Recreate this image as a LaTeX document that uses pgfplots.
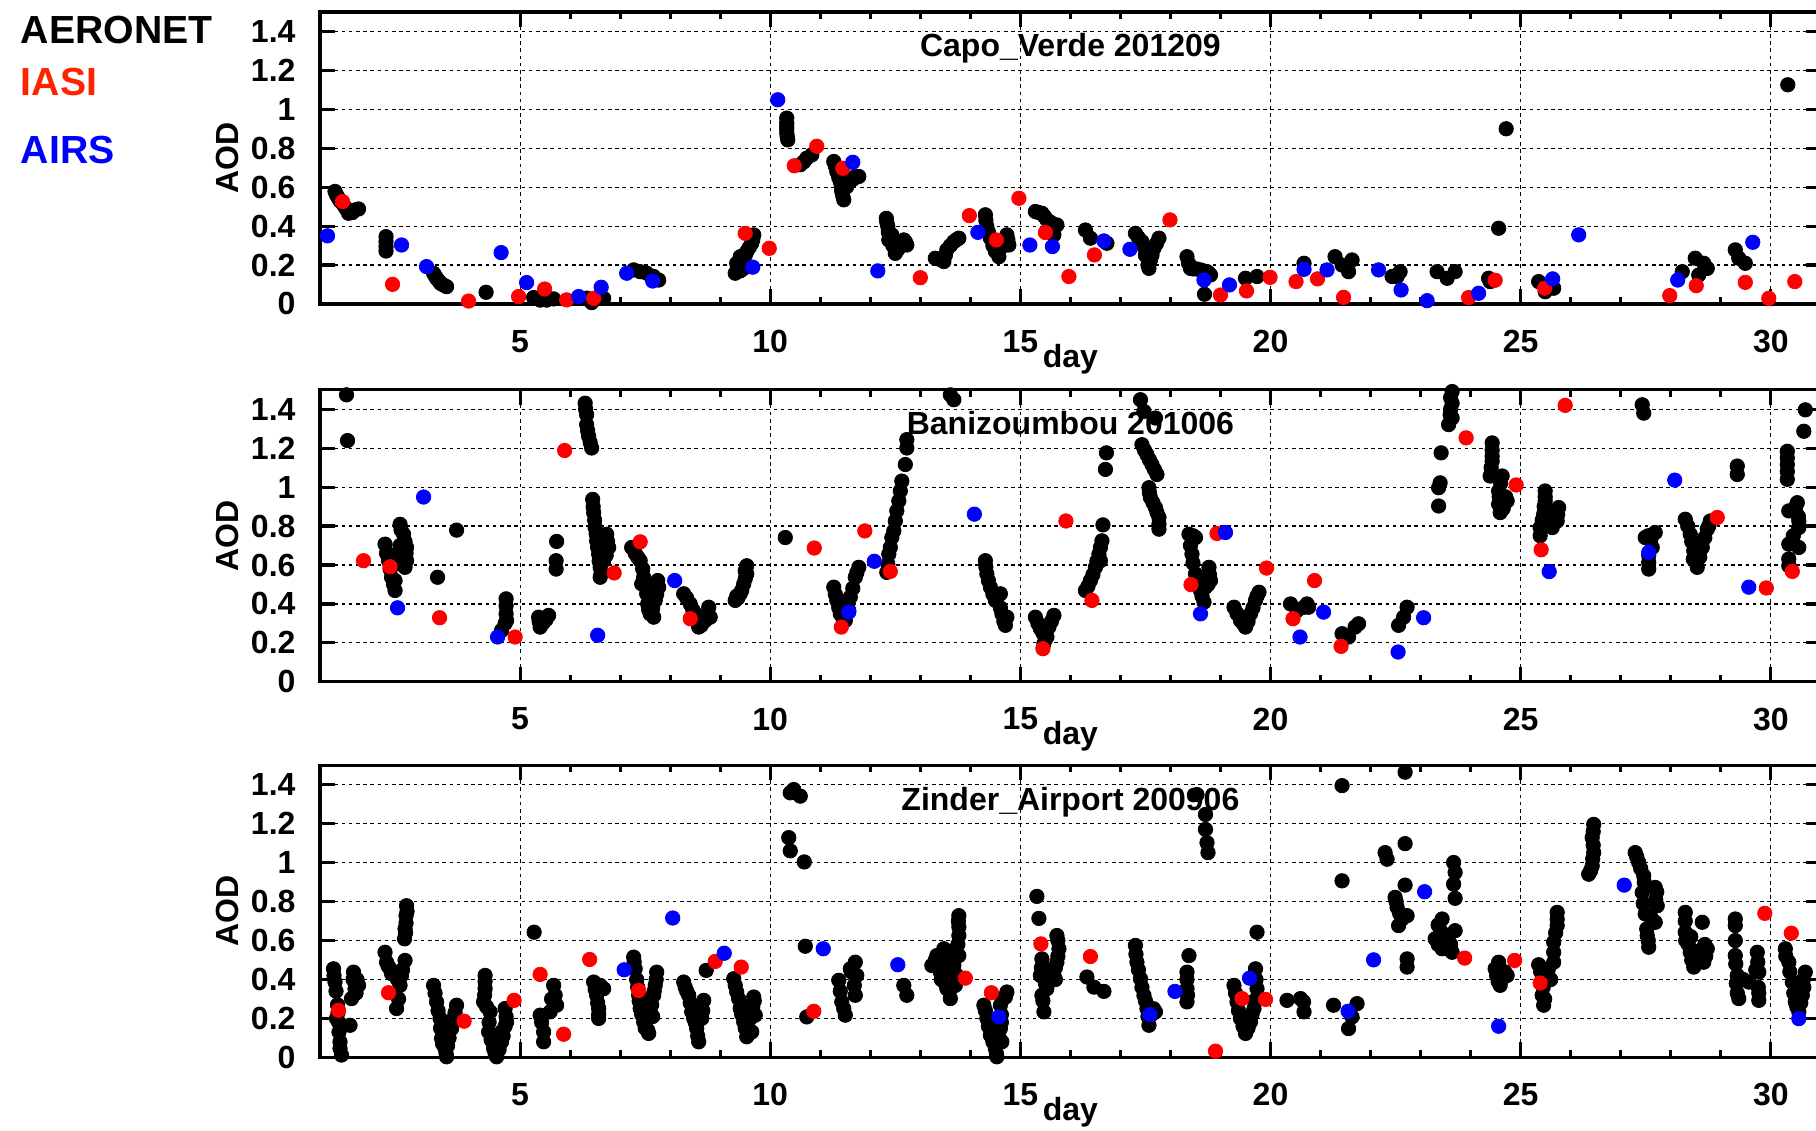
\documentclass[border=0pt]{standalone}
\usepackage{fontspec}
\setmainfont{Liberation Sans}
\usepackage{pgfplots}
\pgfplotsset{compat=1.18}
\definecolor{pred}{RGB}{255,0,0}
\definecolor{pblue}{RGB}{0,0,255}
\definecolor{lred}{RGB}{255,34,0}
\newcommand{\tf}{\fontsize{8}{9}\selectfont\bfseries}
\pgfplotsset{
  panel/.style={
    width=375.2pt, height=73pt, scale only axis,
    xmin=1, xmax=31, ymin=0, ymax=1.5,
    xtick={5,10,15,20,25,30}, minor x tick num=4,
    ytick={0,0.2,0.4,0.6,0.8,1,1.2,1.4},
    yticklabels={0,0.2,0.4,0.6,0.8,1,1.2,1.4},
    tick align=inside, major tick length=3.75pt, minor tick length=1.75pt,
    grid=major,
    major grid style={black, line width=0.3pt, dash pattern=on 0.9pt off 0.9pt},
    axis line style={line width=0.8pt},
    every tick/.style={black, line width=0.8pt},
    /pgf/number format/assume math mode=true,
    tick label style={font=\tf},
    xticklabel style={yshift=-3pt},
    yticklabel style={xshift=-2.6pt},
    xlabel={day}, ylabel={AOD},
    label style={font=\tf},
    xlabel style={at={(axis description cs:0.5,-0.216)}, anchor=base},
    ylabel style={at={(axis description cs:-0.0445,0.5)}, anchor=south},
    clip=false,
  },
  aer/.style={only marks, mark=*, mark size=1.8pt, color=black, mark options={fill=black, draw=black, line width=0.2pt}},
  iasi/.style={only marks, mark=*, mark size=1.8pt, color=pred, mark options={fill=pred, draw=pred, line width=0.2pt}},
  airs/.style={only marks, mark=*, mark size=1.8pt, color=pblue, mark options={fill=pblue, draw=pblue, line width=0.2pt}},
}
\begin{document}
\begin{tikzpicture}
% ---------------- Panel 1 ----------------
\begin{axis}[panel, at={(80pt,206.75pt)}, anchor=south west]
\node[font=\tf, anchor=base] at (axis description cs:0.5,0.846) {Capo\_Verde 201209};
\addplot[aer] coordinates {
(1.30,0.578)(1.37,0.543)(1.47,0.509)(1.57,0.466)(1.70,0.483)(1.77,0.488)(1.62,0.47)
(1.33,0.56)(1.40,0.53)(1.52,0.49)(1.65,0.47)
(2.32,0.346)(2.32,0.32)(2.32,0.295)(2.32,0.272)
(3.27,0.158)(3.33,0.132)(3.41,0.106)(3.53,0.089)(3.30,0.145)(3.37,0.12)(3.47,0.097)
(4.32,0.06)
(5.27,0.033)(5.40,0.02)(5.53,0.02)(5.67,0.026)
(6.33,0.03)(6.43,0.007)(6.67,0.029)
(7.27,0.175)(7.40,0.166)(7.53,0.158)(7.67,0.141)(7.77,0.123)
(9.30,0.158)(9.33,0.209)(9.40,0.243)(9.53,0.269)(9.63,0.312)(9.67,0.355)(9.47,0.183)
(9.35,0.19)(9.43,0.22)(9.50,0.25)(9.58,0.29)(9.65,0.33)(9.35,0.17)(9.40,0.17)
(10.33,0.955)(10.33,0.912)(10.33,0.877)(10.35,0.843)(10.33,0.93)(10.33,0.895)(10.34,0.86)
(10.60,0.715)(10.73,0.749)(10.83,0.766)(10.67,0.73)
(11.27,0.732)(11.33,0.68)(11.40,0.629)(11.43,0.578)(11.47,0.535)(11.70,0.655)(11.77,0.655)(11.53,0.603)
(11.30,0.71)(11.37,0.65)(11.42,0.60)(11.45,0.555)(11.60,0.63)(11.65,0.64)
(12.32,0.44)(12.35,0.398)(12.37,0.329)(12.50,0.26)(12.67,0.329)(12.73,0.303)(12.43,0.355)
(12.33,0.42)(12.36,0.37)(12.45,0.30)(12.55,0.28)(12.70,0.32)(12.40,0.33)
(13.30,0.235)(13.47,0.218)(13.53,0.278)(13.67,0.32)(13.77,0.338)
(13.38,0.23)(13.50,0.25)(13.60,0.30)(13.72,0.33)
(14.30,0.458)(14.33,0.398)(14.40,0.338)(14.57,0.243)(14.73,0.355)(14.77,0.303)(14.63,0.295)
(14.31,0.43)(14.36,0.37)(14.45,0.30)(14.50,0.27)(14.70,0.33)(14.75,0.33)(14.67,0.30)
(15.30,0.475)(15.43,0.466)(15.53,0.432)(15.73,0.406)(15.67,0.355)
(15.36,0.47)(15.48,0.45)(15.60,0.42)(15.62,0.38)
(16.30,0.38)(16.40,0.338)(16.73,0.312)
(17.30,0.363)(17.43,0.32)(17.53,0.269)(17.57,0.183)(17.67,0.286)(17.77,0.338)(17.60,0.226)
(17.36,0.34)(17.48,0.29)(17.55,0.20)(17.63,0.25)(17.72,0.31)(17.50,0.25)
(18.33,0.243)(18.40,0.183)(18.60,0.175)(18.73,0.166)(18.80,0.149)(18.68,0.05)
(18.36,0.21)(18.45,0.18)(18.52,0.18)(18.66,0.17)(18.76,0.16)
(19.50,0.132)(19.73,0.141)
(20.67,0.209)
(21.29,0.243)(21.43,0.2)(21.56,0.166)(21.63,0.226)
(22.43,0.141)(22.59,0.166)(22.53,0.141)
(23.33,0.166)(23.53,0.132)(23.69,0.166)
(24.36,0.132)(24.39,0.115)
(24.56,0.389)
(24.71,0.9)
(25.36,0.115)(25.49,0.063)(25.66,0.081)
(28.23,0.166)(28.49,0.235)(28.66,0.209)(28.56,0.149)(28.73,0.183)
(29.29,0.278)(29.36,0.235)(29.49,0.209)
(30.34,1.126)
};
\addplot[iasi] coordinates {
(1.45,0.526)(2.45,0.101)(3.97,0.015)(4.97,0.038)(5.49,0.077)(5.93,0.021)(6.47,0.029)(9.50,0.363)(9.98,0.286)(10.48,0.71)(10.93,0.81)(11.45,0.697)(13.00,0.135)(13.98,0.454)(14.52,0.329)(14.97,0.543)(15.50,0.367)(15.97,0.141)(16.48,0.252)(17.99,0.432)(19.00,0.046)(19.52,0.067)(19.99,0.137)(20.51,0.115)(20.94,0.129)(21.46,0.034)(23.96,0.033)(24.49,0.122)(25.48,0.081)(27.98,0.043)(28.51,0.094)(29.49,0.111)(29.96,0.029)(30.48,0.115)
};
\addplot[airs] coordinates {
(1.15,0.35)(2.63,0.303)(3.13,0.192)(4.62,0.264)(5.13,0.11)(6.17,0.038)(6.62,0.086)(7.13,0.158)(7.65,0.118)(9.65,0.189)(10.15,1.049)(11.65,0.728)(12.15,0.17)(14.15,0.368)(15.19,0.303)(15.64,0.295)(16.67,0.324)(17.19,0.281)(18.67,0.123)(19.18,0.098)(20.67,0.178)(21.13,0.175)(22.16,0.175)(22.61,0.072)(23.13,0.017)(24.16,0.055)(25.64,0.129)(26.16,0.355)(28.14,0.123)(29.64,0.317)
};
\end{axis}
% ---------------- Panel 2 ----------------
\begin{axis}[panel, at={(80pt,112.3pt)}, anchor=south west]
\node[font=\tf, anchor=base] at (axis description cs:0.5,0.846) {Banizoumbou 201006};
\addplot[aer] coordinates {
(1.53,1.474)(1.55,1.239)
(2.30,0.707)(2.37,0.622)(2.43,0.537)(2.50,0.469)(2.60,0.809)(2.67,0.758)(2.73,0.69)(2.73,0.622)(2.70,0.588)(2.53,0.656)(2.50,0.52)
(2.33,0.66)(2.40,0.58)(2.47,0.50)(2.62,0.78)(2.70,0.72)(2.72,0.66)(2.65,0.60)(2.60,0.70)(2.45,0.60)
(3.73,0.779)(3.35,0.537)
(4.72,0.426)(4.72,0.349)(4.73,0.315)(4.63,0.264)(4.72,0.39)(4.70,0.30)
(5.73,0.721)(5.72,0.622)(5.72,0.579)
(5.37,0.332)(5.40,0.281)(5.57,0.341)(5.47,0.307)(5.45,0.30)(5.52,0.32)(5.38,0.31)
(6.30,1.431)(6.33,1.372)(6.33,1.321)(6.37,1.261)(6.43,1.201)(6.31,1.40)(6.35,1.29)(6.40,1.23)
(6.45,0.937)(6.47,0.869)(6.50,0.792)(6.53,0.724)(6.57,0.656)(6.60,0.588)(6.60,0.537)(6.73,0.758)(6.77,0.69)(6.67,0.622)
(6.46,0.90)(6.49,0.83)(6.52,0.76)(6.55,0.69)(6.58,0.62)(6.62,0.56)(6.70,0.72)(6.75,0.72)(6.72,0.65)
(7.23,0.69)(7.40,0.622)(7.47,0.537)(7.53,0.452)(7.60,0.349)(7.67,0.332)(7.77,0.486)(7.70,0.418)(7.43,0.503)
(7.30,0.66)(7.35,0.64)(7.45,0.58)(7.50,0.50)(7.55,0.40)(7.57,0.37)(7.73,0.45)(7.65,0.38)(7.75,0.52)(7.63,0.36)
(8.27,0.452)(8.40,0.4)(8.50,0.349)(8.57,0.281)(8.70,0.315)(8.77,0.383)(8.80,0.332)
(8.33,0.43)(8.45,0.37)(8.53,0.31)(8.62,0.29)(8.75,0.35)
(9.30,0.418)(9.40,0.452)(9.47,0.503)(9.53,0.554)(9.53,0.596)(9.35,0.43)(9.43,0.47)(9.50,0.53)(9.50,0.57)(9.33,0.44)
(10.30,0.741)
(13.60,1.474)(13.67,1.449)
(11.27,0.486)(11.33,0.418)(11.40,0.349)(11.50,0.315)(11.60,0.435)(11.70,0.537)(11.77,0.588)(11.57,0.366)
(11.30,0.45)(11.37,0.38)(11.45,0.33)(11.55,0.40)(11.65,0.48)(11.73,0.56)
(12.33,0.562)(12.37,0.656)(12.43,0.741)(12.50,0.826)(12.57,0.929)(12.63,1.031)(12.70,1.116)(12.73,1.201)(12.73,1.244)(12.60,0.98)(12.53,0.878)(12.47,0.775)(12.40,0.69)(12.35,0.605)
(14.30,0.622)(14.33,0.554)(14.40,0.486)(14.50,0.418)(14.60,0.452)(14.63,0.349)(14.73,0.332)(14.70,0.29)
(14.31,0.59)(14.36,0.52)(14.45,0.45)(14.55,0.44)(14.67,0.31)(14.60,0.38)
(15.30,0.332)(15.40,0.273)(15.53,0.23)(15.67,0.341)(15.57,0.281)(15.47,0.196)
(15.35,0.30)(15.45,0.25)(15.50,0.22)(15.62,0.31)
(16.30,0.469)(16.40,0.52)(16.50,0.588)(16.57,0.656)(16.63,0.724)(16.60,0.622)
(16.35,0.49)(16.45,0.55)(16.53,0.62)(16.60,0.69)
(16.65,0.806)(16.72,1.176)(16.70,1.091)
(17.40,1.449)(17.47,1.389)(17.70,1.355)
(17.43,1.218)(17.53,1.167)(17.63,1.116)(17.73,1.065)(17.48,1.19)(17.58,1.14)(17.68,1.09)
(17.57,0.997)(17.60,0.946)(17.70,0.895)(17.77,0.844)(17.77,0.784)(17.58,0.97)(17.65,0.92)(17.73,0.87)(17.77,0.81)
(18.37,0.758)(18.50,0.741)(18.43,0.656)(18.50,0.554)(18.60,0.469)(18.67,0.409)(18.77,0.588)(18.80,0.52)(18.70,0.486)
(18.40,0.70)(18.45,0.61)(18.55,0.51)(18.63,0.44)(18.78,0.55)(18.75,0.50)(18.45,0.75)
(19.27,0.383)(19.40,0.315)(19.50,0.281)(19.60,0.349)(19.70,0.418)(19.77,0.46)
(19.33,0.35)(19.45,0.30)(19.55,0.31)(19.65,0.38)(19.73,0.44)
(20.40,0.4)(20.53,0.366)(20.67,0.383)(20.73,0.4)(20.76,0.383)
(21.43,0.247)(21.56,0.23)(21.69,0.281)(21.76,0.298)
(22.56,0.29)(22.66,0.332)(22.73,0.383)
(23.36,0.903)(23.36,0.997)(23.39,1.022)(23.41,1.176)
(23.63,1.491)(23.63,1.431)(23.59,1.372)(23.56,1.321)(23.63,1.355)(23.60,1.40)(23.60,1.46)
(24.43,1.227)(24.43,1.159)(24.43,1.133)(24.39,1.057)(24.63,1.057)(24.56,0.98)(24.56,0.912)(24.59,0.869)(24.73,0.929)
(24.43,1.19)(24.41,1.10)(24.60,1.02)(24.57,0.95)(24.65,0.89)(24.70,0.95)
(25.49,0.98)(25.49,0.929)(25.46,0.861)(25.39,0.792)(25.39,0.75)(25.76,0.895)(25.73,0.826)(25.63,0.792)
(25.49,0.95)(25.47,0.90)(25.43,0.83)(25.70,0.86)(25.74,0.86)(25.55,0.85)(25.60,0.82)
(27.49,0.741)(27.69,0.767)(27.56,0.613)(27.56,0.579)(27.63,0.69)(27.55,0.75)(27.60,0.73)(27.56,0.65)
(27.43,1.423)(27.46,1.38)
(28.29,0.835)(28.39,0.758)(28.46,0.673)(28.53,0.588)(28.63,0.69)(28.73,0.784)(28.79,0.826)
(28.34,0.80)(28.42,0.72)(28.50,0.63)(28.58,0.64)(28.68,0.74)(28.76,0.80)(28.45,0.63)(28.55,0.70)
(29.33,1.108)(29.33,1.065)
(30.69,1.397)(30.66,1.287)(30.33,1.184)(30.33,1.116)(30.33,1.04)(30.53,0.92)(30.36,0.878)(30.56,0.826)(30.56,0.792)(30.36,0.707)(30.56,0.69)(30.36,0.631)(30.36,0.596)
(30.33,1.15)(30.33,1.08)(30.50,0.90)(30.55,0.85)(30.45,0.75)
};
\addplot[iasi] coordinates {
(1.87,0.622)(2.40,0.591)(3.39,0.329)(4.90,0.23)(5.89,1.188)(6.88,0.559)(7.40,0.719)(8.40,0.324)(10.88,0.687)(11.42,0.281)(11.89,0.775)(12.40,0.567)(15.91,0.826)(15.45,0.17)(16.43,0.418)(18.41,0.499)(18.93,0.762)(19.92,0.584)(20.45,0.324)(20.88,0.52)(21.41,0.182)(23.91,1.253)(24.91,1.011)(25.41,0.678)(25.89,1.42)(28.93,0.844)(29.91,0.482)(30.43,0.567)
};
\addplot[airs] coordinates {
(3.07,0.949)(2.55,0.38)(4.55,0.23)(6.55,0.239)(8.09,0.52)(11.57,0.358)(12.08,0.619)(14.08,0.861)(18.60,0.349)(19.10,0.767)(20.59,0.23)(21.06,0.358)(22.55,0.153)(23.06,0.329)(25.57,0.566)(27.56,0.665)(28.08,1.036)(29.56,0.486)
};
\end{axis}
% ---------------- Panel 3 ----------------
\begin{axis}[panel, at={(80pt,18.4pt)}, anchor=south west]
\node[font=\tf, anchor=base] at (axis description cs:0.5,0.846) {Zinder\_Airport 200906};
\addplot[aer] coordinates {
(1.27,0.455)(1.30,0.387)(1.37,0.182)(1.40,0.08)(1.43,0.012)(1.40,0.046)(1.60,0.165)(1.67,0.438)(1.70,0.353)(1.77,0.37)(1.63,0.302)(1.33,0.2)
(1.28,0.42)(1.32,0.34)(1.35,0.27)(1.36,0.23)(1.38,0.13)(1.66,0.40)(1.72,0.33)(1.74,0.40)
(2.30,0.54)(2.33,0.489)(2.47,0.438)(2.60,0.37)(2.53,0.251)(2.70,0.498)(2.63,0.421)(2.73,0.779)(2.72,0.728)(2.70,0.66)(2.69,0.609)(2.40,0.455)
(2.36,0.47)(2.43,0.43)(2.55,0.40)(2.65,0.45)(2.72,0.69)(2.71,0.64)(2.74,0.75)(2.57,0.30)
(3.27,0.37)(3.33,0.285)(3.40,0.2)(3.43,0.097)(3.50,0.046)(3.53,0.003)(3.63,0.148)(3.73,0.268)(3.67,0.2)
(3.30,0.33)(3.36,0.24)(3.41,0.15)(3.45,0.07)(3.52,0.02)(3.58,0.10)(3.60,0.17)(3.70,0.23)(3.47,0.12)(3.55,0.06)
(4.30,0.421)(4.30,0.353)(4.27,0.285)(4.40,0.234)(4.37,0.131)(4.47,0.046)(4.53,0.003)(4.63,0.08)(4.73,0.182)(4.70,0.251)(4.63,0.131)
(4.30,0.39)(4.29,0.32)(4.33,0.26)(4.38,0.18)(4.42,0.09)(4.50,0.02)(4.58,0.04)(4.66,0.11)(4.70,0.16)(4.72,0.21)(4.60,0.10)(4.55,0.06)
(5.28,0.643)
(5.67,0.37)(5.73,0.268)(5.40,0.217)(5.47,0.131)(5.47,0.08)(5.60,0.234)(5.43,0.18)(5.63,0.30)(5.70,0.32)
(6.47,0.387)(6.53,0.319)(6.57,0.251)(6.57,0.2)(6.67,0.353)(6.50,0.35)(6.55,0.28)(6.57,0.22)(6.60,0.37)
(7.27,0.515)(7.30,0.455)(7.37,0.319)(7.40,0.251)(7.47,0.182)(7.57,0.123)(7.67,0.319)(7.73,0.438)(7.70,0.37)(7.60,0.234)
(7.28,0.49)(7.33,0.40)(7.35,0.36)(7.38,0.29)(7.43,0.22)(7.50,0.15)(7.55,0.14)(7.63,0.27)(7.65,0.21)(7.68,0.34)(7.72,0.40)(7.45,0.28)(7.55,0.30)
(8.27,0.387)(8.37,0.319)(8.43,0.234)(8.53,0.148)(8.57,0.08)(8.67,0.293)(8.63,0.2)(8.72,0.447)
(8.30,0.36)(8.33,0.34)(8.40,0.28)(8.47,0.20)(8.50,0.18)(8.55,0.11)(8.60,0.25)(8.65,0.24)(8.58,0.20)
(9.27,0.404)(9.33,0.336)(9.40,0.251)(9.47,0.182)(9.53,0.106)(9.67,0.31)(9.70,0.217)(9.63,0.131)
(9.30,0.37)(9.37,0.30)(9.43,0.22)(9.50,0.15)(9.57,0.12)(9.60,0.20)(9.65,0.26)(9.68,0.29)(9.55,0.26)
(10.40,1.359)(10.60,1.342)(10.47,1.376)(10.37,1.129)(10.40,1.061)(10.68,1.004)(10.70,0.571)(10.73,0.208)
(11.37,0.396)(11.43,0.285)(11.50,0.217)(11.60,0.455)(11.70,0.489)(11.73,0.421)(11.70,0.319)
(11.40,0.34)(11.47,0.25)(11.62,0.44)(11.68,0.37)
(12.67,0.37)(12.73,0.319)
(13.33,0.523)(13.40,0.438)(13.53,0.353)(13.60,0.302)(13.73,0.421)(13.77,0.523)(13.77,0.626)(13.77,0.728)(13.47,0.558)(13.23,0.472)(13.67,0.472)
(13.30,0.50)(13.35,0.48)(13.42,0.40)(13.50,0.38)(13.55,0.42)(13.60,0.50)(13.70,0.55)(13.75,0.58)(13.77,0.67)(13.76,0.70)(13.60,0.35)(13.70,0.37)(13.50,0.45)
(14.27,0.268)(14.33,0.2)(14.40,0.114)(14.50,0.046)(14.53,0.003)(14.60,0.148)(14.63,0.08)(14.73,0.336)(14.60,0.268)
(14.30,0.24)(14.36,0.16)(14.45,0.08)(14.52,0.02)(14.57,0.11)(14.62,0.18)(14.65,0.30)(14.70,0.31)(14.62,0.22)
(15.33,0.827)(15.37,0.714)
(15.73,0.626)(15.77,0.558)(15.73,0.489)(15.43,0.506)(15.40,0.421)(15.53,0.353)(15.43,0.319)(15.47,0.234)(15.67,0.421)
(15.75,0.60)(15.75,0.52)(15.70,0.46)(15.42,0.46)(15.45,0.29)(15.50,0.38)(15.60,0.45)(15.70,0.40)
(16.33,0.413)(16.47,0.361)(16.67,0.339)
(17.30,0.575)(17.33,0.489)(17.40,0.404)(17.47,0.319)(17.53,0.251)(17.57,0.165)(17.70,0.234)
(17.31,0.53)(17.36,0.45)(17.43,0.36)(17.50,0.29)(17.55,0.21)(17.62,0.22)(17.66,0.25)
(18.37,0.523)(18.33,0.438)(18.33,0.353)(18.33,0.285)(18.33,0.40)(18.34,0.32)
(18.53,1.35)(18.70,1.248)(18.70,1.171)(18.73,1.103)(18.75,1.052)
(19.27,0.37)(19.33,0.285)(19.40,0.2)(19.50,0.123)(19.60,0.182)(19.67,0.251)(19.70,0.455)(19.73,0.353)
(19.30,0.33)(19.36,0.24)(19.45,0.16)(19.55,0.15)(19.63,0.22)(19.71,0.40)(19.72,0.30)(19.68,0.29)
(19.73,0.643)
(20.33,0.293)(20.60,0.302)(20.67,0.234)(20.66,0.285)
(21.26,0.268)(21.56,0.148)(21.63,0.208)(21.73,0.276)
(21.43,1.396)(21.43,0.907)
(22.69,1.465)(22.69,1.098)(22.29,1.052)(22.33,1.018)(22.69,0.885)
(22.49,0.822)(22.53,0.771)(22.63,0.711)(22.73,0.728)(22.56,0.677)(22.51,0.80)(22.58,0.74)
(22.73,0.506)(22.73,0.464)
(23.66,1.001)(23.69,0.95)(23.66,0.89)(23.69,0.817)
(23.43,0.711)(23.29,0.609)(23.43,0.558)(23.63,0.54)(23.69,0.651)(23.56,0.626)
(23.35,0.68)(23.40,0.65)(23.50,0.60)(23.60,0.58)(23.35,0.58)(23.50,0.57)
(24.49,0.455)(24.59,0.37)(24.73,0.421)(24.56,0.489)(24.52,0.42)(24.62,0.40)(24.68,0.44)(24.55,0.39)
(25.73,0.745)(25.73,0.677)(25.66,0.592)(25.66,0.489)(25.36,0.476)(25.49,0.404)(25.43,0.319)(25.46,0.268)
(25.73,0.71)(25.70,0.64)(25.66,0.54)(25.40,0.44)(25.45,0.36)(25.48,0.30)(25.55,0.45)(25.60,0.40)
(26.46,1.197)(26.43,1.129)(26.46,1.052)(26.43,0.984)(26.36,0.941)(26.45,1.16)(26.45,1.09)(26.44,1.02)(26.40,0.96)
(27.29,1.052)(27.36,1.001)(27.46,0.933)(27.69,0.873)(27.43,0.847)(27.73,0.779)(27.49,0.737)(27.69,0.694)(27.53,0.626)(27.56,0.566)
(27.32,1.03)(27.40,0.97)(27.47,0.90)(27.72,0.85)(27.70,0.81)(27.45,0.79)(27.52,0.66)(27.55,0.60)(27.60,0.72)
(28.29,0.745)(28.29,0.643)(28.39,0.54)(28.46,0.464)(28.63,0.694)(28.73,0.558)(28.66,0.489)
(28.29,0.70)(28.30,0.60)(28.35,0.58)(28.42,0.50)(28.50,0.48)(28.60,0.55)(28.68,0.58)(28.70,0.52)(28.40,0.62)
(29.29,0.711)(29.29,0.677)(29.29,0.523)(29.33,0.421)(29.36,0.302)(29.73,0.54)(29.76,0.438)(29.76,0.293)(29.56,0.387)
(29.29,0.60)(29.30,0.48)(29.31,0.38)(29.33,0.33)(29.74,0.49)(29.75,0.36)(29.76,0.33)(29.70,0.45)(29.45,0.40)
(30.29,0.558)(30.36,0.489)(30.43,0.387)(30.49,0.285)(30.69,0.438)(30.63,0.319)(30.56,0.234)
(30.30,0.52)(30.38,0.44)(30.46,0.33)(30.52,0.26)(30.65,0.40)(30.66,0.36)(30.60,0.28)
};
\addplot[iasi] coordinates {
(1.37,0.242)(2.37,0.332)(3.88,0.186)(4.88,0.293)(5.40,0.426)(5.87,0.119)(6.39,0.503)(7.37,0.344)(8.90,0.493)(9.42,0.464)(10.87,0.237)(13.90,0.407)(14.42,0.332)(15.41,0.583)(16.40,0.518)(18.90,0.032)(19.43,0.302)(19.90,0.298)(23.88,0.51)(24.88,0.498)(25.39,0.382)(29.88,0.74)(30.41,0.638)
};
\addplot[airs] coordinates {
(7.08,0.45)(8.05,0.716)(9.08,0.535)(11.06,0.558)(12.55,0.476)(14.57,0.208)(17.59,0.22)(18.09,0.339)(19.58,0.407)(21.55,0.237)(22.06,0.501)(23.08,0.851)(24.56,0.16)(27.07,0.885)(30.56,0.199)
};
\end{axis}
% ---------------- Legend ----------------
\node[anchor=base west, inner sep=0pt, font=\fontsize{9.8}{11}\selectfont\bfseries, text=black] at (5pt,271.75pt) {AERONET};
\node[anchor=base west, inner sep=0pt, font=\fontsize{9.8}{11}\selectfont\bfseries, text=lred] at (5pt,258.75pt) {IASI};
\node[anchor=base west, inner sep=0pt, font=\fontsize{9.8}{11}\selectfont\bfseries, text=pblue] at (5pt,241.75pt) {AIRS};
\pgfresetboundingbox
\path[use as bounding box] (0pt,0pt) rectangle (454pt,282.75pt);
\end{tikzpicture}
\end{document}
